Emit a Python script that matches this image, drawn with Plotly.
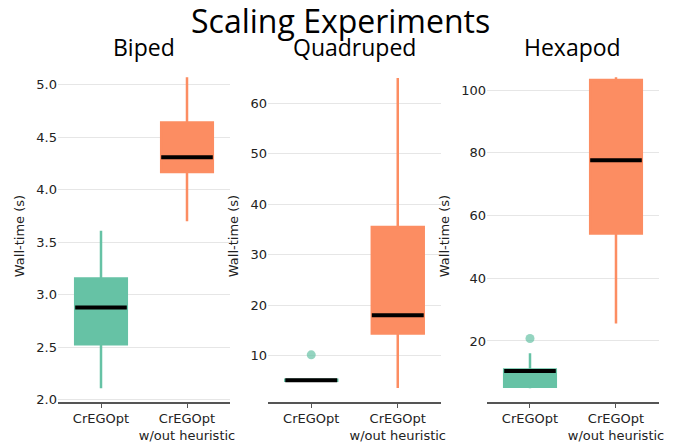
import plotly.graph_objects as go

categories = ["CrEGOpt", "CrEGOpt<br>w/out heuristic"]
panels = ["Biped", "Quadruped", "Hexapod"]
colors = ["#66c2a5", "#fc8d62"]
outlier_color = "rgba(102,194,165,0.7)"

# stats per panel: [CrEGOpt, w/out heuristic]
lower = [[2.11, 3.70], [5.0, 3.55], [4.9, 25.6]]
q1 = [[2.53, 4.17], [5.0, 14.4], [5.4, 54.3]]
median = [[2.88, 4.31], [5.1, 18.0], [10.4, 77.6]]
q3 = [[3.155, 4.64], [5.2, 35.5], [10.9, 103.2]]
upper = [[3.61, 5.07], [5.2, 65.0], [16.1, 104.1]]
outliers = [[[], []], [[10.15], []], [[20.8], []]]

yranges = [[1.98, 5.14], [0.8, 66.6], [0.55, 106.4]]
ydtick = [0.5, 10, 20]

domains = [[0.0, 0.2862], [0.3494, 0.6373], [0.7138, 1.0]]

fig = go.Figure()
for p in range(3):
    xa = "x" if p == 0 else f"x{p+1}"
    ya = "y" if p == 0 else f"y{p+1}"
    for c in range(2):
        fig.add_trace(go.Box(
            x=[categories[c]], q1=[q1[p][c]], median=[median[p][c]], q3=[q3[p][c]],
            lowerfence=[lower[p][c]], upperfence=[upper[p][c]],
            fillcolor=colors[c], line=dict(color=colors[c], width=2.5),
            width=0.6, whiskerwidth=0, boxpoints=False, showlegend=False,
            xaxis=xa, yaxis=ya, hoverinfo="skip"))
        # median line overlay (degenerate box at median)
        fig.add_trace(go.Box(
            x=[categories[c]], q1=[median[p][c]], median=[median[p][c]], q3=[median[p][c]],
            lowerfence=[median[p][c]], upperfence=[median[p][c]],
            fillcolor="rgba(0,0,0,0)", line=dict(color="black", width=4),
            width=0.6, whiskerwidth=0, boxpoints=False, showlegend=False,
            xaxis=xa, yaxis=ya, hoverinfo="skip"))
        if outliers[p][c]:
            fig.add_trace(go.Scatter(
                x=[categories[c]] * len(outliers[p][c]), y=outliers[p][c],
                mode="markers", marker=dict(color=outlier_color, size=9),
                showlegend=False, xaxis=xa, yaxis=ya, hoverinfo="skip"))

tickfont = dict(family="DejaVu Sans", size=13, color="#222")
layout = dict(
    width=675, height=435,
    margin=dict(l=50, r=24, t=62, b=41),
    plot_bgcolor="white", paper_bgcolor="white",
    boxmode="overlay",
    font=dict(family="DejaVu Sans", size=13, color="#222"),
)
for p in range(3):
    xk = "xaxis" if p == 0 else f"xaxis{p+1}"
    yk = "yaxis" if p == 0 else f"yaxis{p+1}"
    layout[xk] = dict(
        domain=domains[p], anchor="y" if p == 0 else f"y{p+1}", automargin=False,
        type="category", categoryorder="array", categoryarray=categories,
        range=[-0.5, 1.5], showline=True, linecolor="#555", linewidth=1.5,
        ticks="outside", ticklen=4, tickcolor="#555", tickwidth=1.2,
        showgrid=False, zeroline=False, tickfont=tickfont)
    layout[yk] = dict(
        domain=[0, 1], anchor="x" if p == 0 else f"x{p+1}", automargin=False,
        range=yranges[p], dtick=ydtick[p], showline=False, zeroline=False,
        showgrid=True, gridcolor="#e6e6e6", gridwidth=1.2, ticks="",
        tickfont=tickfont, tickformat=".1f" if p == 0 else "d",
        title=dict(text="Wall-time (s)", font=dict(family="DejaVu Sans", size=13, color="#222"),
                   standoff=8))

fig.update_layout(**layout)

plot_w = 675 - 50 - 24
plot_h = 435 - 62 - 41
annotations = [dict(text="Scaling Experiments", x=(332 - 50) / plot_w, xref="paper", xanchor="center",
                    y=1 + (62 - 13) / plot_h, yref="paper", yanchor="middle",
                    showarrow=False, font=dict(family="Open Sans", size=32, color="black"))]
for p in range(3):
    annotations.append(dict(text=panels[p], x=(domains[p][0] + domains[p][1]) / 2, xref="paper",
                            xanchor="center", y=1 + (62 - 39) / plot_h, yref="paper", yanchor="middle",
                            showarrow=False, font=dict(family="Open Sans", size=23, color="black")))
fig.update_layout(annotations=annotations)

fig.write_html("out.html")
